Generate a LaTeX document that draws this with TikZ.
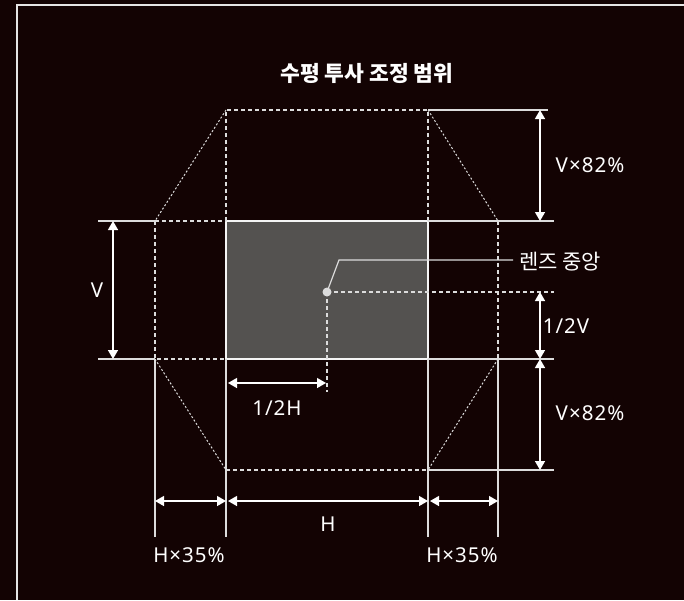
\documentclass[tikz,border=0pt]{standalone}
\usepackage{fontspec}
\setmainfont{Noto Sans}[LetterSpace=5]
\newfontfamily\krfont{Noto Sans CJK KR}
\usetikzlibrary{arrows.meta}
\definecolor{bg}{RGB}{19,3,3}
\definecolor{scr}{RGB}{84,82,80}
\definecolor{ln}{RGB}{220,220,220}
\begin{document}
\begin{tikzpicture}[x=1pt,y=-1pt,
  ext/.style={draw=ln, line width=1.1pt},
  dim/.style={draw=white, line width=1.4pt, {Triangle[width=10pt,length=9pt]}-{Triangle[width=10pt,length=9pt]}},
  dsh/.style={draw=ln, line width=1.1pt, dash pattern=on 4pt off 3pt},
  dtt/.style={draw=ln, line width=1pt, dash pattern=on 2pt off 2pt},
  lbl/.style={text=white, font=\fontsize{20.5}{24}\selectfont, inner sep=0pt},
  krl/.style={text=white, font=\krfont\fontsize{21}{24}\selectfont, inner sep=0pt},
  ttl/.style={text=white, font=\krfont\fontsize{21.5}{24}\selectfont\bfseries, inner sep=0pt}]
\fill[bg] (0,0) rectangle (684,600);
\useasboundingbox (0,0) rectangle (684,600);
% frame
\draw[white!80!gray, line width=2pt] (16.5,600) -- (16.5,4.5) -- (684,4.5);
% key coordinates
\coordinate (tl) at (226,110); \coordinate (tr) at (428,110);
\coordinate (sl) at (226,221); \coordinate (sr) at (428,221);
\coordinate (bl) at (226,359); \coordinate (br) at (428,359);
\coordinate (wl) at (226,470); \coordinate (wr) at (428,470);
\coordinate (ol) at (155,221); \coordinate (or) at (498,221);
\coordinate (oll) at (155,359); \coordinate (orr) at (498,359);
\coordinate (ctr) at (327,292);
% screen
\filldraw[fill=scr, draw=white!92!gray, line width=1.5pt] (sl) rectangle (br);
% dashed outlines
\draw[dsh] (sl) -- (tl) -- (tr) -- (sr);
\draw[dsh] (ol) -- (sl);
\draw[dsh] (ol) -- (oll) -- (bl);
\draw[dsh] (or) -- (orr);
\draw[dsh] (wl) -- (wr);
% diagonals
\draw[dtt] (tl) -- (ol);
\draw[dtt] (tr) -- (or);
\draw[dtt] (oll) -- (wl);
\draw[dtt] (orr) -- (wr);
% extension lines
\coordinate (e1) at (548,110); \coordinate (e2) at (554,221);
\coordinate (e3) at (554,359); \coordinate (e4) at (554,470);
\coordinate (e5) at (98,221); \coordinate (e6) at (98,359);
\draw[ext] (tr) -- (e1);
\draw[ext] (sr) -- (e2);
\draw[ext] (br) -- (e3);
\draw[ext] (wr) -- (e4);
\draw[ext] (e5) -- (ol);
\draw[ext] (e6) -- (oll);
\coordinate (f1) at (155,537); \coordinate (f2) at (226,537);
\coordinate (f3) at (428,537); \coordinate (f4) at (498,537);
\draw[ext] (oll) -- (f1);
\draw[ext] (bl) -- (f2);
\draw[ext] (br) -- (f3);
\draw[ext] (orr) -- (f4);
% centre lines
\coordinate (c1) at (554,292); \coordinate (c2) at (327,392);
\draw[dsh] (ctr) -- (c1);
\draw[dsh] (ctr) -- (c2);
\coordinate (k1) at (339,260); \coordinate (k2) at (513,260);
\draw[draw=ln, line width=1.2pt] (ctr) -- (k1) -- (k2);
\fill[ln] (ctr) circle (4.5pt);
% dimension arrows
\coordinate (v1) at (113,221); \coordinate (v2) at (113,359);
\draw[dim] (v1) -- (v2);
\coordinate (r1) at (540,110); \coordinate (r2) at (540,221);
\coordinate (r3) at (540,292); \coordinate (r4) at (540,359);
\coordinate (r5) at (540,470);
\draw[dim] (r1) -- (r2);
\draw[dim] (r3) -- (r4);
\draw[dim] (r4) -- (r5);
\coordinate (h1) at (228,383); \coordinate (h2) at (326,383);
\draw[dim] (h1) -- (h2);
\coordinate (b1) at (155,501); \coordinate (b2) at (226,501);
\coordinate (b3) at (228,501); \coordinate (b4) at (428,501);
\coordinate (b5) at (430,501); \coordinate (b6) at (498,501);
\draw[dim] (b1) -- (b2);
\draw[dim] (b3) -- (b4);
\draw[dim] (b5) -- (b6);
% labels
\node[ttl] (title) at (367,73) {수평 투사 조정 범위};
\node[lbl] (lv) at (97,290) {V};
\node[lbl] (lv82a) at (590,165) {V×82\%};
\node[lbl] (lv82b) at (590,413) {V×82\%};
\node[lbl] (lhalfv) at (566,326) {1/2V};
\node[lbl] (lhalfh) at (277,408) {1/2H};
\node[lbl] (lh) at (328,524) {H};
\node[lbl] (lh35a) at (189,555) {H×35\%};
\node[lbl] (lh35b) at (462,555) {H×35\%};
\node[krl, anchor=west] (lens) at (519,262) {렌즈 중앙};
\end{tikzpicture}
\end{document}
